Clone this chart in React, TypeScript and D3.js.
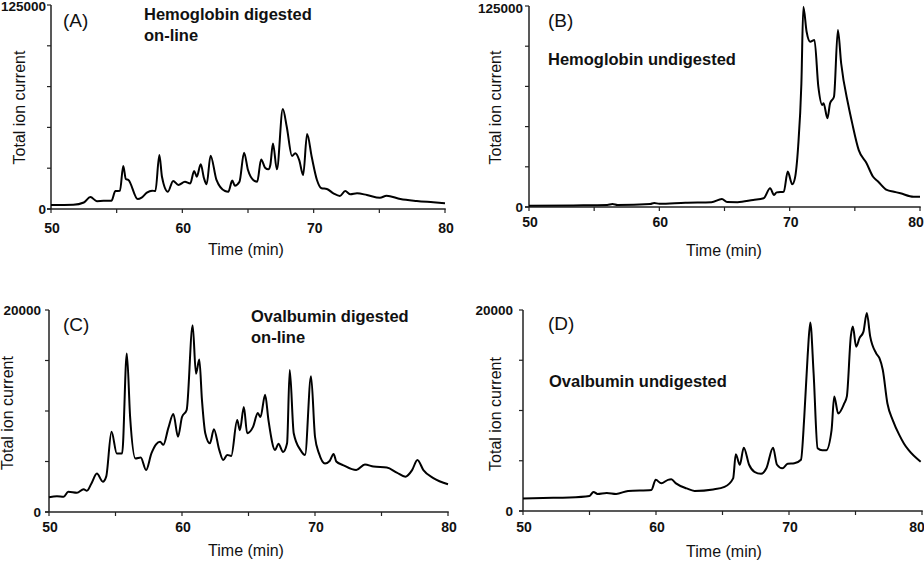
import React from "react";
import * as d3 from "d3";

// ---------- Data ----------
const timeTicks = [50, 55, 60, 65, 70, 75, 80];
const timeTickLabels = [50, 60, 70, 80];

// (A) Hemoglobin digested on-line
const hbDigTime = [50.0, 51.0, 51.7, 52.5, 53.0, 53.5, 54.0, 54.6, 54.9, 55.25, 55.5, 55.7, 55.9, 56.6, 56.9, 57.3, 57.7, 57.95, 58.25, 58.45, 58.9, 59.3, 59.7, 60.2, 60.6, 60.9, 61.1, 61.4, 61.65, 61.85, 62.15, 62.6, 63.25, 63.5, 63.8, 64.0, 64.35, 64.7, 65.0, 65.4, 65.7, 66.0, 66.3, 66.55, 66.7, 66.9, 67.2, 67.65, 67.95, 68.35, 68.6, 68.9, 69.2, 69.5, 69.85, 70.25, 70.6, 71.0, 71.5, 72.0, 72.4, 72.8, 73.3, 74.05, 75.05, 75.55, 76.6, 77.85, 79.1, 80.0];
const hbDigTic = [2500, 2500, 2600, 4000, 7300, 4800, 5000, 5000, 11000, 11200, 26300, 18400, 17800, 6100, 7000, 10000, 11200, 11000, 33100, 19800, 10600, 17200, 14700, 16700, 15700, 23300, 19800, 27400, 18800, 15100, 32700, 17800, 11000, 10600, 17400, 14300, 16700, 34500, 23900, 17800, 16700, 30400, 25300, 24300, 27000, 40200, 24300, 61300, 50400, 32500, 34100, 30000, 20800, 46000, 32000, 17800, 12700, 12300, 9600, 8000, 11000, 9000, 9600, 8600, 6900, 8100, 6100, 4900, 4100, 3500];

// (B) Hemoglobin undigested
const hbUndTime = [50, 53.4, 56.0, 56.4, 56.8, 59.3, 59.6, 60.0, 62.0, 64.0, 64.8, 65.2, 66.0, 67.2, 68.0, 68.5, 68.8, 69.0, 69.55, 69.85, 70.2, 70.4, 70.65, 70.9, 71.05, 71.3, 71.57, 71.9, 72.2, 72.5, 72.6, 72.9, 73.1, 73.4, 73.7, 73.95, 74.5, 74.8, 75.3, 75.9, 76.4, 76.8, 77.45, 78.0, 78.5, 79.5, 80];
const hbUndTic = [700, 1000, 1300, 1900, 1300, 1900, 2500, 2000, 2700, 3000, 5000, 3100, 3000, 4400, 5400, 11600, 7500, 9100, 9500, 22000, 14100, 17800, 37500, 77000, 124500, 109000, 102800, 103900, 74800, 63400, 64500, 55200, 64500, 68600, 110000, 89400, 63400, 52000, 35400, 27200, 18800, 15700, 10600, 9500, 8500, 6400, 6400];

// (C) Ovalbumin digested on-line
const ovDigTime = [50.0, 50.6, 51.1, 51.45, 52.1, 52.6, 52.85, 53.2, 53.6, 54.05, 54.3, 54.7, 55.1, 55.5, 55.85, 56.1, 56.5, 56.9, 57.3, 57.7, 58.05, 58.35, 58.6, 58.97, 59.35, 59.7, 60.0, 60.35, 60.8, 61.05, 61.3, 61.5, 61.75, 62.1, 62.4, 62.8, 63.1, 63.4, 63.7, 64.15, 64.35, 64.65, 64.9, 65.35, 65.7, 65.9, 66.25, 66.5, 67.0, 67.25, 67.6, 67.9, 68.1, 68.4, 68.9, 69.25, 69.7, 70.0, 70.3, 70.75, 71.1, 71.4, 71.6, 72.1, 73.1, 73.75, 74.4, 75.4, 76.15, 76.8, 77.3, 77.7, 78.15, 78.9, 80.0];
const ovDigTic = [1450, 1550, 1500, 2000, 1900, 2250, 2100, 2850, 3800, 3000, 3500, 7950, 5800, 5800, 15700, 9400, 5300, 5400, 4150, 5800, 6700, 6950, 6650, 8300, 9700, 7450, 9400, 10100, 18500, 13700, 15100, 11100, 7800, 6800, 8200, 6150, 5150, 5650, 5550, 9100, 8100, 10400, 7800, 8450, 9800, 9400, 11600, 9100, 6150, 6750, 5950, 6800, 14050, 7800, 6150, 5650, 13450, 7450, 5800, 4800, 5050, 5750, 5000, 4650, 4150, 4700, 4500, 4400, 3900, 3500, 4150, 5150, 4150, 3350, 2750];

// (D) Ovalbumin undigested
const ovUndTime = [50.0, 51.5, 53.5, 55.0, 55.3, 55.6, 56.3, 57.0, 57.9, 59.65, 59.98, 60.4, 60.9, 61.15, 61.5, 62.3, 62.9, 64.3, 65.15, 65.8, 66.0, 66.3, 66.6, 67.0, 67.4, 67.9, 68.3, 68.8, 69.1, 69.5, 69.9, 70.4, 70.9, 71.15, 71.4, 71.6, 71.85, 72.15, 72.5, 72.8, 73.2, 73.4, 73.7, 74.15, 74.35, 74.65, 74.8, 75.05, 75.3, 75.6, 75.85, 76.1, 76.55, 76.8, 77.05, 77.4, 77.8, 78.3, 78.65, 79.0, 79.9];
const ovUndTic = [1250, 1300, 1350, 1500, 1900, 1700, 1800, 1700, 2000, 2100, 3100, 2750, 3100, 3150, 2750, 2250, 2000, 2150, 2400, 3250, 5650, 4600, 6300, 4600, 3900, 3700, 4250, 6300, 4600, 4250, 4700, 4750, 5100, 9400, 15400, 18750, 13700, 6250, 6050, 6050, 8050, 11400, 9700, 10700, 11400, 17400, 18350, 16350, 17200, 17850, 19700, 17400, 15700, 15200, 14050, 10700, 9050, 7550, 6700, 6050, 4900];

const panelLetters = ["(A)", "(B)", "(C)", "(D)"];
const panelTitles = [
  ["Hemoglobin digested", "on-line"],
  ["Hemoglobin undigested"],
  ["Ovalbumin digested", "on-line"],
  ["Ovalbumin undigested"],
];
const yMaxes = [125000, 125000, 20000, 20000];
const yTickCounts = [5, 5, 4, 4];

// ---------- Layout ----------
const layouts = [
  { x0: 51, x1: 445, y0: 209, y1: 5, tickLabY: 24, yLabGap: 5, topLabDy: 1, lastShift: 0, yTitleX: 25, yTitleY: 107.5, xTitleX: 246, xTitleY: 255, letterX: 63, letterY: 27, titleX: 144, titleY: 19.5 },
  { x0: 529, x1: 920, y0: 207, y1: 6, tickLabY: 19.5, yLabGap: 6, topLabDy: 2, lastShift: -5, yTitleX: 501, yTitleY: 107.5, xTitleX: 724, xTitleY: 256, letterX: 548, letterY: 27, titleX: 548, titleY: 65 },
  { x0: 49, x1: 448, y0: 512, y1: 310, tickLabY: 19.5, yLabGap: 8, topLabDy: 0, lastShift: 0, yTitleX: 13, yTitleY: 413, xTitleX: 246, xTitleY: 556, letterX: 63, letterY: 331, titleX: 251, titleY: 321.5 },
  { x0: 523, x1: 922, y0: 511, y1: 310, tickLabY: 21, yLabGap: 10, topLabDy: 0, lastShift: -6, yTitleX: 501, yTitleY: 414, xTitleX: 724, xTitleY: 557, letterX: 548, letterY: 330, titleX: 549, titleY: 386.5 },
];

const seriesTimes = [hbDigTime, hbUndTime, ovDigTime, ovUndTime];
const seriesValues = [hbDigTic, hbUndTic, ovDigTic, ovUndTic];

const FONT = "Liberation Sans, Arial, Helvetica, sans-serif";
const AXIS = "#222";

function Panel({ i }: { i: number }) {
  const L = layouts[i];
  const x = d3.scaleLinear().domain([50, 80]).range([L.x0, L.x1]);
  const y = d3.scaleLinear().domain([0, yMaxes[i]]).range([L.y0, L.y1]);
  const times = seriesTimes[i];
  const vals = seriesValues[i];
  const pts: [number, number][] = times.map((t, k) => [t, vals[k]]);
  const line = d3
    .line<[number, number]>()
    .x((d) => x(d[0]))
    .y((d) => y(d[1]))
    .curve(d3.curveMonotoneX);
  const yTicks = d3.range(0, yTickCounts[i] + 1).map((k) => (yMaxes[i] / yTickCounts[i]) * k);

  return (
    <g>
      {/* axes */}
      <line x1={L.x0} x2={L.x0} y1={L.y1} y2={L.y0} stroke={AXIS} strokeWidth={1.5} />
      <line x1={L.x0 - 4} x2={L.x1 + 0.75} y1={L.y0} y2={L.y0} stroke={AXIS} strokeWidth={1.5} />
      {yTicks.map((v) => (
        <line key={"yt" + v} x1={L.x0 - 4} x2={L.x0} y1={y(v)} y2={y(v)} stroke={AXIS} strokeWidth={1.2} />
      ))}
      {timeTicks.map((t) => (
        <line key={"xt" + t} x1={x(t)} x2={x(t)} y1={L.y0} y2={L.y0 + 4} stroke={AXIS} strokeWidth={1.2} />
      ))}
      {[0, yMaxes[i]].map((v) => (
        <text key={"yl" + v} x={L.x0 - L.yLabGap} y={y(v) + (v > 0 ? L.topLabDy : 0)} dy="0.36em" textAnchor="end" fontSize={13.5} fontWeight="bold" fontFamily={FONT} fill="#111">
          {v}
        </text>
      ))}
      {timeTickLabels.map((t) => (
        <text key={"xl" + t} x={x(t) + 1 + (t === 80 ? L.lastShift : 0)} y={L.y0 + L.tickLabY} textAnchor="middle" fontSize={14} fontWeight="bold" fontFamily={FONT} fill="#111">
          {t}
        </text>
      ))}
      <text x={L.xTitleX} y={L.xTitleY} textAnchor="middle" fontSize={16} fontFamily={FONT} fill="#111">
        Time (min)
      </text>
      <text transform={`translate(${L.yTitleX},${L.yTitleY}) rotate(-90)`} textAnchor="middle" fontSize={16} fontFamily={FONT} fill="#111">
        Total ion current
      </text>
      <text x={L.letterX} y={L.letterY} fontSize={19} fontFamily={FONT} fill="#111">
        {panelLetters[i]}
      </text>
      {panelTitles[i].map((s, k) => (
        <text key={s} x={L.titleX} y={L.titleY + k * 21} fontSize={16.5} fontWeight="bold" fontFamily={FONT} fill="#111">
          {s}
        </text>
      ))}
      {/* trace */}
      <path d={line(pts) || ""} fill="none" stroke="#000" strokeWidth={2} strokeLinejoin="round" />
    </g>
  );
}

export default function App() {
  return (
    <svg width={924} height={563} style={{ position: "absolute", left: 0, top: 0, background: "#fff" }}>
      <rect width={924} height={563} fill="#fff" />
      {[0, 1, 2, 3].map((i) => (
        <Panel key={i} i={i} />
      ))}
    </svg>
  );
}
